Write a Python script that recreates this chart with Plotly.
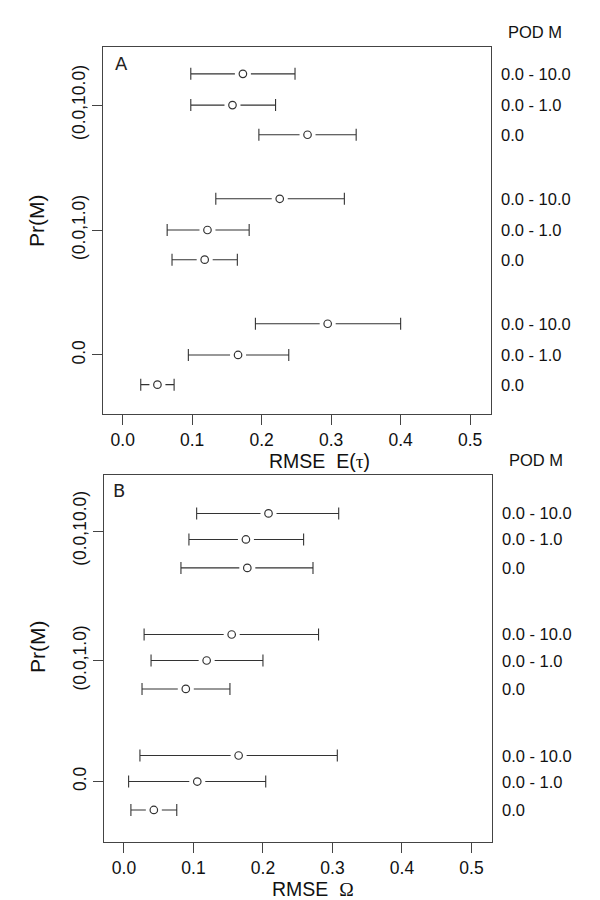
import plotly.graph_objects as go

# Pr(M) groups, bottom to top, and POD M rows inside each group (top to bottom)
groups = ["0.0", "(0.0,1.0)", "(0.0,10.0)"]
pod_labels = ["0.0 - 10.0", "0.0 - 1.0", "0.0"]

# panel A: RMSE E(tau) -- ordered group by group, rows POD 10 / 1 / 0
a_mid = [0.295, 0.166, 0.050, 0.226, 0.122, 0.118, 0.173, 0.158, 0.266]
a_lo = [0.191, 0.0945, 0.026, 0.134, 0.064, 0.071, 0.098, 0.098, 0.196]
a_hi = [0.400, 0.239, 0.074, 0.319, 0.182, 0.165, 0.248, 0.220, 0.336]

# panel B: RMSE Omega
b_mid = [0.165, 0.1055, 0.043, 0.155, 0.119, 0.089, 0.208, 0.1755, 0.1775]
b_lo = [0.023, 0.0067, 0.010, 0.029, 0.039, 0.026, 0.1046, 0.0935, 0.082]
b_hi = [0.307, 0.204, 0.076, 0.280, 0.200, 0.1525, 0.309, 0.2585, 0.272]

x_ticks = [0.0, 0.1, 0.2, 0.3, 0.4, 0.5]

GROUP_POS = [0, 4, 8]
ROW_OFF_A = [1.0, 0.0, -0.95]
ROW_OFF_B = [0.86, 0.0, -0.94]
TICKS_B = [0, 4, 8.28]

INK = "#333333"
FONT = "Liberation Sans, Arial, sans-serif"


def _rows(offsets):
    return [g + o for g in GROUP_POS for o in offsets]


def _add_panel(fig, n, mid, lo, hi, offsets):
    xa = "x" if n == 1 else "x%d" % n
    ya = "y" if n == 1 else "y%d" % n
    ys = _rows(offsets)
    # whiskers with caps
    fig.add_trace(go.Scatter(
        x=mid, y=ys, mode="markers", xaxis=xa, yaxis=ya,
        marker={"size": 1, "color": "rgba(0,0,0,0)"},
        error_x={"type": "data", "symmetric": False,
                 "array": [h - m for h, m in zip(hi, mid)],
                 "arrayminus": [m - l for m, l in zip(mid, lo)],
                 "width": 6, "thickness": 1.1, "color": INK},
        hoverinfo="skip", showlegend=False,
    ))
    # white mask to break the line round the point
    fig.add_trace(go.Scatter(
        x=mid, y=ys, mode="markers", xaxis=xa, yaxis=ya,
        marker={"symbol": "square", "size": 16, "color": "white", "line": {"width": 0}},
        hoverinfo="skip", showlegend=False,
    ))
    fig.add_trace(go.Scatter(
        x=mid, y=ys, mode="markers", xaxis=xa, yaxis=ya,
        marker={"symbol": "circle-open", "size": 7.5, "color": INK, "line": {"width": 1.2}},
        showlegend=False,
    ))
    xdom = xa + " domain"
    ydom = ya + " domain"
    for y, lab in zip(ys, pod_labels * len(groups)):
        fig.add_annotation(x=1, y=y, xref=xdom, yref=ya, text=lab, showarrow=False,
                           xanchor="left", yanchor="middle", xshift=8,
                           font={"size": 16.5, "color": "#111"})
    fig.add_annotation(x=1, y=1.04, xref=xdom, yref=ydom, text="POD M", showarrow=False,
                       xanchor="left", yanchor="middle", xshift=15,
                       font={"size": 16.5, "color": "#111"})


fig = go.Figure()
_add_panel(fig, 1, a_mid, a_lo, a_hi, ROW_OFF_A)
_add_panel(fig, 2, b_mid, b_lo, b_hi, ROW_OFF_B)

axis_common = {
    "showline": True, "mirror": True, "linecolor": "#444", "linewidth": 1.3,
    "showgrid": False, "zeroline": False, "ticks": "outside", "ticklen": 10,
    "tickwidth": 1.1, "tickcolor": "#444", "automargin": False,
    "tickfont": {"size": 17.5, "color": "#111", "family": FONT},
}

fig.update_layout(
    width=600, height=900,
    paper_bgcolor="white", plot_bgcolor="white",
    margin={"l": 0, "r": 0, "t": 0, "b": 0},
    font={"family": FONT, "color": "#111"},
    xaxis={**axis_common, "domain": [0.1717, 0.8183], "range": [-0.0283, 0.530],
           "tickvals": x_ticks, "ticktext": ["%.1f" % v for v in x_ticks], "anchor": "y"},
    yaxis={**axis_common, "domain": [0.540, 0.9478], "range": [-1.89, 9.86],
           "tickvals": GROUP_POS, "ticktext": groups, "tickangle": -90, "anchor": "x"},
    xaxis2={**axis_common, "domain": [0.1738, 0.8205], "range": [-0.0283, 0.530],
            "tickvals": x_ticks, "ticktext": ["%.1f" % v for v in x_ticks], "anchor": "y2"},
    yaxis2={**axis_common, "domain": [0.0644, 0.4722], "range": [-2.0, 10.13],
            "tickvals": TICKS_B, "ticktext": groups, "tickangle": -90, "anchor": "x2"},
)

serif = "font-family:'Liberation Serif', 'DejaVu Serif', serif"
panel_text = [
    ("x domain", "y domain", 0.048, 0.954, "A", 0.559, -0.128, "RMSE\u00a0\u00a0E(<span style=\"%s\">\u03c4</span>)" % serif, -0.170, 0.526),
    ("x2 domain", "y2 domain", 0.038, 0.959, "B", 0.538, -0.128, "RMSE\u00a0\u00a0<span style=\"%s\">\u03a9</span>" % serif, -0.1735, 0.531),
]
for xr, yr, lx, ly, letter, tx, ty, title, px, py in panel_text:
    fig.add_annotation(x=lx, y=ly, xref=xr, yref=yr, text=letter, showarrow=False,
                       xanchor="center", yanchor="middle",
                       font={"size": 18, "family": "DejaVu Sans", "color": "#222"})
    fig.add_annotation(x=tx, y=ty, xref=xr, yref=yr, text=title, showarrow=False,
                       xanchor="center", yanchor="middle",
                       font={"size": 19.5, "color": "#111"})
    fig.add_annotation(x=px, y=py, xref=xr, yref=yr, text="Pr(M)", showarrow=False,
                       xanchor="center", yanchor="middle",
                       textangle=-90, font={"size": 21, "color": "#111"})

# the page's default body margin would shift the figure by 8px
fig.write_html("out.html", config={"displayModeBar": False},
               post_script="document.body.style.margin = '0';")
